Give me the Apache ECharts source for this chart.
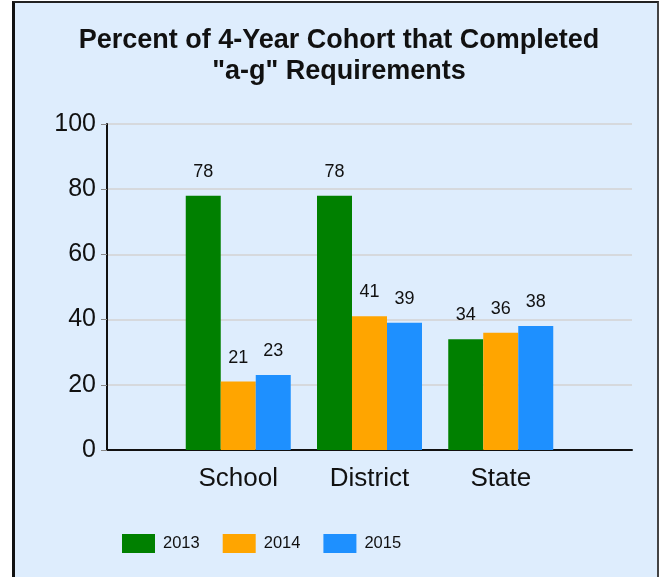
<!DOCTYPE html>
<html>
<head>
<meta charset="utf-8">
<script src="https://cdn.jsdelivr.net/npm/echarts@6/dist/echarts.min.js"></script>
<style>
    html, body { margin: 0; padding: 0; background: #fff; }
    #frame {
        position: absolute; left: 12px; top: 1px; width: 642px; height: 600px;
        background: #deedfd;
        border-left: 3px solid #111; border-top: 2px solid #222; border-right: 2px solid #444;
    }
    #chart { position: absolute; left: 0; top: 0; width: 660px; height: 577px; }
</style>
</head>
<body>
<div id="frame"></div>
<div id="chart"></div>
<script>
const categories = ['School', 'District', 'State'];
const years = ['2013', '2014', '2015'];
const values2013 = [78, 78, 34];
const values2014 = [21, 41, 36];
const values2015 = [23, 39, 38];
const yTicks = [0, 20, 40, 60, 80, 100];

const colors = ['#008000', '#ffa500', '#1e90ff'];
const FONT = '"Liberation Sans", Arial, sans-serif';

// empty slots on both ends so the groups sit at 1/4, 2/4, 3/4 of the axis
const axisData = [''].concat(categories, ['']);
const pad = arr => [null].concat(arr, [null]);

const chart = echarts.init(document.getElementById('chart'));

chart.setOption({
    backgroundColor: 'transparent',
    textStyle: { fontFamily: FONT },
    animation: false,
    title: {
        text: 'Percent of 4-Year Cohort that Completed\n"a-g" Requirements',
        left: 334,
        textAlign: 'center',
        top: 20,
        textStyle: { fontFamily: FONT, fontSize: 27, fontWeight: 'bold', color: '#111', lineHeight: 31 }
    },
    legend: {
        left: 122,
        top: 534,
        padding: 0,
        itemWidth: 33,
        itemHeight: 19,
        itemGap: 23,
        icon: 'rect',
        textStyle: { fontFamily: FONT, fontSize: 16.5, color: '#111', padding: [0, 0, 0, 3] },
        data: years
    },
    grid: { left: 107, right: 28, top: 124, bottom: 127 },
    xAxis: {
        type: 'category',
        data: axisData,
        boundaryGap: false,
        axisLine: { lineStyle: { color: '#111', width: 2 } },
        axisTick: { show: false },
        axisLabel: { color: '#111', fontSize: 26, margin: 16, fontFamily: FONT }
    },
    yAxis: {
        type: 'value',
        min: yTicks[0],
        max: yTicks[yTicks.length - 1],
        interval: 20,
        axisLine: { show: true, lineStyle: { color: '#111', width: 2 } },
        axisTick: { show: true, length: 6, lineStyle: { color: '#888', width: 1 } },
        axisLabel: { color: '#111', fontSize: 25, margin: 11, fontFamily: FONT },
        splitLine: { lineStyle: { color: '#d6d9dd', width: 2 } }
    },
    series: [values2013, values2014, values2015].map((vals, i) => ({
        name: years[i],
        type: 'bar',
        data: pad(vals),
        barWidth: 35,
        barGap: '0%',
        itemStyle: { color: colors[i] },
        label: {
            show: true,
            position: 'top',
            distance: 15,
            color: '#111',
            fontSize: 18,
            fontFamily: FONT
        }
    }))
});
</script>
</body>
</html>
